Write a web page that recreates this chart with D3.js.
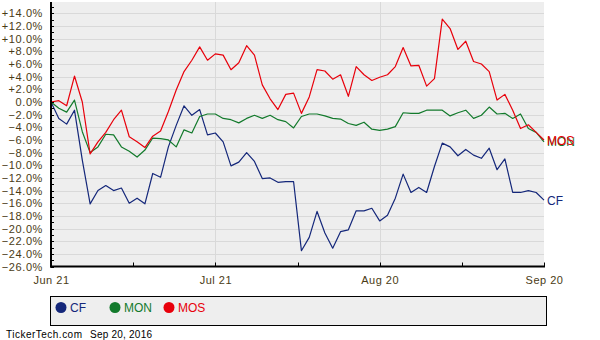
<!DOCTYPE html>
<html><head><meta charset="utf-8">
<script src="https://cdn.jsdelivr.net/npm/d3@7"></script>
<style>
html,body{margin:0;padding:0;background:#fff;}
svg{display:block;font-family:"Liberation Sans",Arial,sans-serif;}
</style></head>
<body><svg id="chart" width="600" height="340"></svg>
<script>
const dates = ["2016-06-21","2016-06-22","2016-06-23","2016-06-24","2016-06-27","2016-06-28","2016-06-29","2016-06-30",
"2016-07-01","2016-07-05","2016-07-06","2016-07-07","2016-07-08","2016-07-11","2016-07-12","2016-07-13","2016-07-14","2016-07-15",
"2016-07-18","2016-07-19","2016-07-20","2016-07-21","2016-07-22","2016-07-25","2016-07-26","2016-07-27","2016-07-28","2016-07-29",
"2016-08-01","2016-08-02","2016-08-03","2016-08-04","2016-08-05","2016-08-08","2016-08-09","2016-08-10","2016-08-11","2016-08-12",
"2016-08-15","2016-08-16","2016-08-17","2016-08-18","2016-08-19","2016-08-22","2016-08-23","2016-08-24","2016-08-25","2016-08-26",
"2016-08-29","2016-08-30","2016-08-31","2016-09-01","2016-09-02","2016-09-06","2016-09-07","2016-09-08","2016-09-09",
"2016-09-12","2016-09-13","2016-09-14","2016-09-15","2016-09-16","2016-09-19","2016-09-20"];

const CF = [0,-2.6,-3.5,-1.3,-9.2,-16.1,-14.0,-13.2,-14.0,-13.6,-16.0,-15.2,-16.1,-11.3,-11.9,-7.1,
-3.7,-0.6,-2.1,-1.2,-5.2,-4.9,-6.3,-10.1,-9.5,-8.0,-9.4,-12.1,-12.0,-12.7,-12.6,-12.6,
-23.5,-21.4,-17.3,-20.7,-23.1,-20.5,-20.2,-17.2,-17.2,-16.8,-18.8,-17.9,-15.2,-11.4,-14.3,-13.5,
-14.3,-10.2,-6.5,-7.1,-8.5,-7.5,-8.4,-8.9,-7.3,-10.7,-9.0,-14.3,-14.3,-14.0,-14.3,-15.5];

const MON = [0,-1.0,-1.6,0.3,-4.7,-8.0,-7.1,-5.1,-5.2,-7.1,-7.8,-8.7,-7.6,-5.7,-5.8,-6.0,
-7.1,-4.4,-4.9,-2.3,-1.9,-1.9,-2.6,-2.8,-3.3,-2.6,-2.1,-2.6,-2.1,-2.8,-3.1,-4.1,
-2.3,-1.9,-1.9,-2.2,-2.6,-2.7,-3.4,-3.7,-3.2,-4.3,-4.5,-4.3,-3.9,-1.7,-1.8,-1.8,
-1.3,-1.3,-1.3,-2.2,-1.7,-1.3,-2.6,-2.1,-0.8,-1.9,-1.8,-2.6,-1.9,-4.2,-4.8,-6.3];

const MOS = [0,0.2,-0.6,4.1,0.0,-8.2,-6.3,-4.8,-2.8,-1.3,-5.5,-6.3,-7.2,-5.4,-4.6,-1.5,
1.9,4.8,6.6,8.7,6.6,7.6,7.4,5.1,6.2,8.9,7.4,2.7,0.5,-1.2,1.2,1.4,
-1.8,0.8,5.1,4.9,3.6,4.3,0.9,5.6,4.3,3.4,3.9,4.3,5.6,8.6,5.7,5.8,
2.5,3.7,13.1,11.6,8.3,9.6,6.4,6.0,4.8,0.3,1.2,-1.3,-4.2,-3.6,-4.8,-6.0];

const seriesNames = ["CF","MON","MOS"];
const seriesColors = ["#14277a","#137a2c","#e8000b"];
const xTickDates = ["2016-06-21","2016-07-21","2016-08-19","2016-09-20"];
const xTickLabels = ["Jun 21","Jul 21","Aug 20","Sep 20"];
const yTickValues = [-26,-24,-22,-20,-18,-16,-14,-12,-10,-8,-6,-4,-2,0,2,4,6,8,10,12,14];
const footerSite = "TickerTech.com";
const footerDate = "Sep 20, 2016";

const svg = d3.select("#chart");
const L = 51, R = 544, T = 2, B = 266.5;
const x = d3.scaleLinear().domain([0, dates.length - 1]).range([L, R]);
const y = d3.scaleLinear().domain([-26, 15.8]).range([B, T]);
const labelColor = "#4a3b15";

// plot background
svg.append("rect").attr("x", L).attr("y", T).attr("width", R - L).attr("height", B - T).attr("fill", "#eeeeee");

// horizontal grid
svg.append("g").selectAll("line").data(yTickValues.filter(v => v > -26)).join("line")
  .attr("x1", L).attr("x2", R)
  .attr("y1", d => Math.round(y(d)) + 0.5).attr("y2", d => Math.round(y(d)) + 0.5)
  .attr("stroke", "#d9d9d9").attr("stroke-width", 1);

// vertical grid at inner major ticks
const majorIdx = xTickDates.map(d => dates.indexOf(d));
svg.append("g").selectAll("line").data(majorIdx.slice(1, -1)).join("line")
  .attr("x1", d => Math.round(x(d)) + 0.5).attr("x2", d => Math.round(x(d)) + 0.5)
  .attr("y1", T).attr("y2", B)
  .attr("stroke", "#d9d9d9").attr("stroke-width", 1);

// lines
const seriesData = [CF, MON, MOS];
const line = d3.line().x((d, i) => x(i)).y(d => y(d));
seriesData.forEach((s, k) => {
  svg.append("path").datum(s).attr("d", line)
    .attr("fill", "none").attr("stroke", seriesColors[k]).attr("stroke-width", 1.2)
    .attr("stroke-linejoin", "round");
});

// y axis
const yAxis = d3.axisLeft(y).tickValues(yTickValues).tickSize(0).tickPadding(0)
  .tickFormat(d => (d > 0 ? "+" : "") + d3.format(".1f")(d) + "%");
const gy = svg.append("g").attr("transform", `translate(43,0)`).call(yAxis);
gy.select(".domain").remove();
gy.selectAll("text").attr("fill", labelColor).attr("font-size", "11px")
  .attr("font-family", "Liberation Sans, Arial, sans-serif").style("letter-spacing", "0.6px");

// y minor ticks (inside)
svg.append("g").selectAll("line").data(d3.range(-26, 16, 1)).join("line")
  .attr("x1", L).attr("x2", L + 3)
  .attr("y1", d => Math.round(y(d)) + 0.5).attr("y2", d => Math.round(y(d)) + 0.5)
  .attr("stroke", "#000").attr("stroke-width", 1);

// axis lines
svg.append("line").attr("x1", L).attr("x2", L).attr("y1", T).attr("y2", B + 1).attr("stroke", "#000").attr("stroke-width", 2);
svg.append("line").attr("x1", L - 1).attr("x2", R + 1).attr("y1", B).attr("y2", B).attr("stroke", "#000").attr("stroke-width", 2);

// x ticks (major + minor), pointing up
const xTickPos = [];
majorIdx.forEach((d, i) => { xTickPos.push(d); if (i < majorIdx.length - 1) xTickPos.push((d + majorIdx[i + 1]) / 2); });
svg.append("g").selectAll("line").data(xTickPos).join("line")
  .attr("x1", d => Math.round(x(d)) + 0.5).attr("x2", d => Math.round(x(d)) + 0.5)
  .attr("y1", B - 4).attr("y2", B)
  .attr("stroke", "#000").attr("stroke-width", 1);

// x labels via axis
const xAxis = d3.axisBottom(x).tickValues(majorIdx).tickSize(0).tickPadding(0)
  .tickFormat((d, i) => xTickLabels[i]);
const gx = svg.append("g").attr("transform", `translate(0,${B + 10})`).call(xAxis);
gx.select(".domain").remove();
gx.selectAll("text").attr("fill", labelColor).attr("font-size", "11px")
  .attr("font-family", "Liberation Sans, Arial, sans-serif").style("letter-spacing", "0.5px");

// end labels
const last = dates.length - 1;
[1, 2, 0].forEach(k => {
  svg.append("text").attr("x", R + 3).attr("y", y(seriesData[k][last])).attr("dy", "0.38em")
    .attr("fill", seriesColors[k]).attr("font-size", "12px").text(seriesNames[k]);
});

// legend
svg.append("rect").attr("x", 50.5).attr("y", 296.5).attr("width", 496).attr("height", 29)
  .attr("fill", "#eeeeee").attr("stroke", "#000").attr("stroke-width", 1);
const legX = [61, 115, 169];
seriesNames.forEach((n, k) => {
  svg.append("circle").attr("cx", legX[k]).attr("cy", 307.5).attr("r", 5.5).attr("fill", seriesColors[k]);
  svg.append("text").attr("x", legX[k] + 9).attr("y", 312).attr("fill", seriesColors[k])
    .attr("font-size", "12px").text(n);
});

// footer
svg.append("text").attr("x", 6).attr("y", 337.5).attr("font-size", "10px").attr("fill", "#000")
  .attr("textLength", 76).attr("lengthAdjust", "spacing").text(footerSite);
svg.append("text").attr("x", 90).attr("y", 337.5).attr("font-size", "10px").attr("fill", "#000")
  .attr("textLength", 62).attr("lengthAdjust", "spacing").text(footerDate);
</script></body></html>
